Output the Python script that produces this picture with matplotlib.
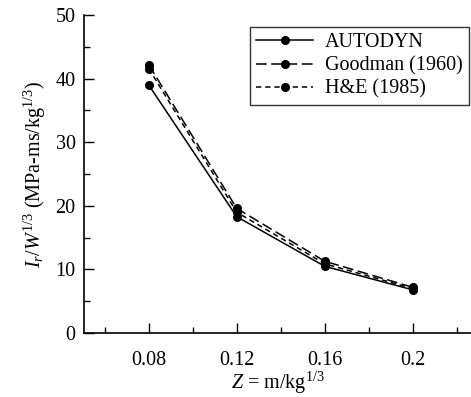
import numpy as np
import matplotlib.pyplot as plt
from matplotlib.ticker import MultipleLocator

plt.rcParams['font.family'] = ['Liberation Serif', 'DejaVu Serif']
plt.rcParams['mathtext.fontset'] = 'custom'
plt.rcParams['mathtext.rm'] = 'Liberation Serif'
plt.rcParams['mathtext.it'] = 'Liberation Serif:italic'

# Data
z = [0.08, 0.12, 0.16, 0.2]
autodyn = [39.0, 18.3, 10.5, 6.8]
goodman = [42.2, 19.6, 11.3, 7.2]
he = [41.6, 19.0, 10.9, 7.0]

fig = plt.figure(figsize=(4.71, 3.97), dpi=100)
ax = fig.add_axes([0.178, 0.161, 0.822, 0.801])

ax.plot(z, autodyn, 'k-', marker='o', ms=5.5, lw=1.1, label='AUTODYN')
ax.plot(z, goodman, 'k', ls=(0, (7, 3)), marker='o', ms=5.5, lw=1.1, label='Goodman (1960)')
ax.plot(z, he, 'k', ls=(0, (3.5, 2.5)), marker='o', ms=5.5, lw=1.1, label='H&E (1985)')

ax.set_xlim(0.0505, 0.2265)
ax.set_ylim(0, 50)
ax.set_xticks([0.08, 0.12, 0.16, 0.2])
ax.set_xticklabels(['0.08', '0.12', '0.16', '0.2'])
ax.set_xticks([0.06, 0.10, 0.14, 0.18, 0.22], minor=True)
ax.yaxis.set_major_locator(MultipleLocator(10))
ax.yaxis.set_minor_locator(MultipleLocator(5))
ax.tick_params(which='both', direction='in', labelsize=14.5, width=1)
ax.tick_params(which='major', length=7)
ax.tick_params(which='minor', length=4)
ax.tick_params(axis='x', pad=13)
ax.tick_params(axis='y', pad=6)
ax.spines['top'].set_visible(False)
ax.spines['right'].set_visible(False)
ax.spines['left'].set_linewidth(1.2)
ax.spines['bottom'].set_linewidth(1.2)

ax.set_xlabel(r'$Z$ = m/kg$^{1/3}$', fontsize=14.5, labelpad=0)
ax.set_ylabel(r'$I_r/W^{1/3}$ (MPa-ms/kg$^{1/3}$)', fontsize=14.5, labelpad=5)

leg = ax.legend(loc='upper right', bbox_to_anchor=(0.994, 0.962), fontsize=14.5,
                frameon=True, fancybox=False, edgecolor='black', borderaxespad=0,
                handlelength=2.8, borderpad=0.3, labelspacing=0.2, handletextpad=0.6)
leg.get_frame().set_linewidth(1.0)

fig.savefig('out.png', dpi=100)
